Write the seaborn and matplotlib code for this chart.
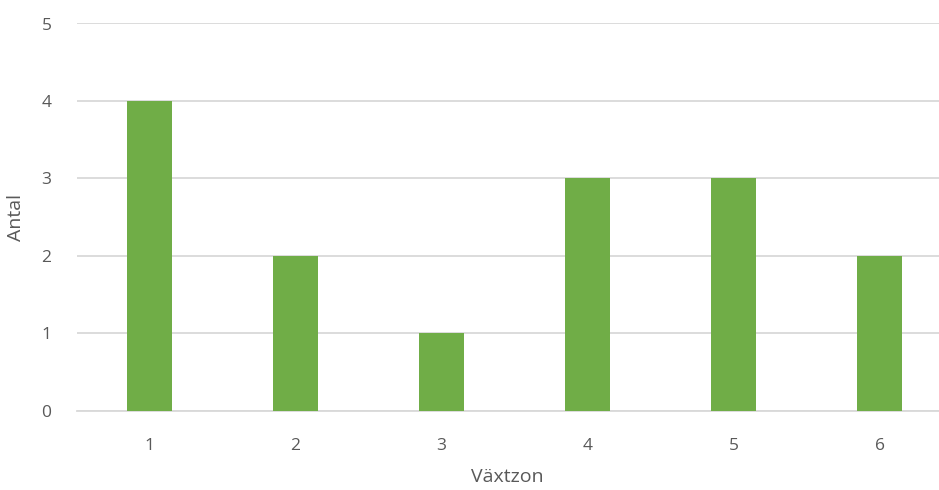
import matplotlib
matplotlib.use("Agg")
import matplotlib.pyplot as plt
import seaborn as sns
import pandas as pd

zones = ["1", "2", "3", "4", "5", "6"]
counts = [4, 2, 1, 3, 3, 2]
y_ticks = [0, 1, 2, 3, 4, 5]

sns.set_style("white")
plt.rcParams['font.family'] = ['Open Sans', 'DejaVu Sans']

W, H = 939, 490
fig = plt.figure(figsize=(W / 100, H / 100), dpi=100)
left, right = 76.5, 939
bottom, top = 490 - 410.7, 490 - 23.5
ax = fig.add_axes([left / W, bottom / H, (right - left) / W, (top - bottom) / H])

df = pd.DataFrame({"zone": zones, "count": counts})
sns.barplot(data=df, x="zone", y="count", color="#70AD47", saturation=1,
            width=0.313, ax=ax, zorder=3, linewidth=0)

ax.set_xlim(-0.5, 5.5 - 13.5 / 146)
ax.set_ylim(0, 5)
ax.set_yticks(y_ticks)
ax.yaxis.grid(True, color="#D9D9D9", linewidth=1.3, zorder=0)
ax.set_axisbelow(True)
for s in ["top", "right", "left"]:
    ax.spines[s].set_visible(False)
ax.spines["bottom"].set_color("#D9D9D9")
ax.spines["bottom"].set_linewidth(1.3)
ax.tick_params(axis="both", length=0, labelsize=12.5, labelcolor="#595959")
ax.tick_params(axis="y", pad=18)
ax.tick_params(axis="x", pad=20)
ax.set_xlabel("Växtzon", fontsize=14, color="#595959", labelpad=10)
ax.set_ylabel("Antal", fontsize=14, color="#595959", labelpad=12)

fig.savefig("out.png", dpi=100)
